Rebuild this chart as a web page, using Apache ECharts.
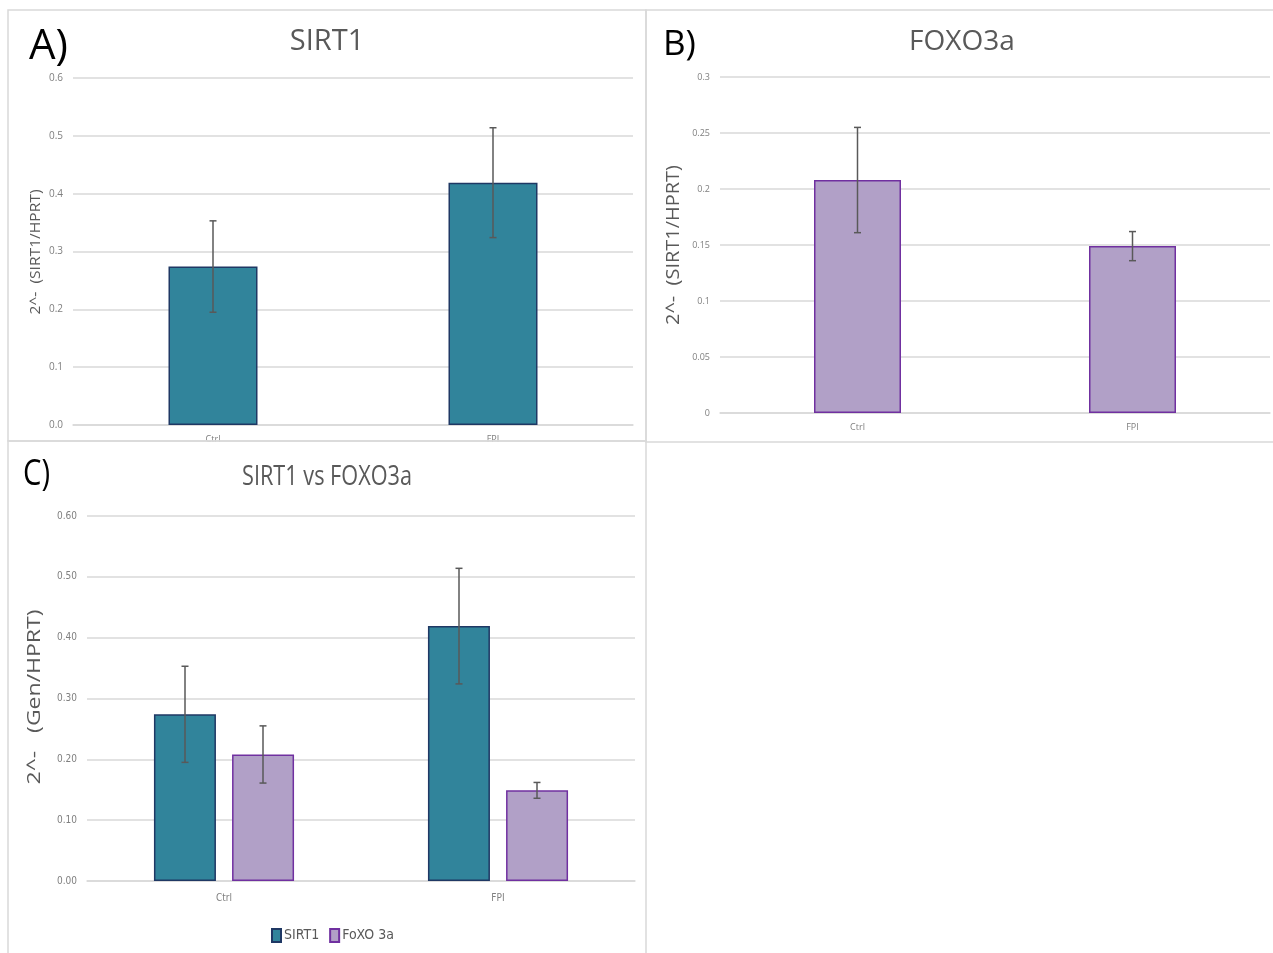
<!DOCTYPE html>
<html>
<head>
<meta charset="utf-8">
<script src="https://cdn.jsdelivr.net/npm/echarts@6/dist/echarts.min.js"></script>
<style>
  html, body { margin: 0; padding: 0; background: #fff; }
  #chart { width: 1273px; height: 953px; }
</style>
</head>
<body>
<div id="chart"></div>
<script>
// Relative expression (2^-ΔΔCt) of SIRT1 and FOXO3a, Ctrl vs FPI
const categories = ['Ctrl', 'FPI'];
const sirt1Mean = [0.274, 0.419];
const sirt1Err = [0.079, 0.095];
const foxo3aMean = [0.208, 0.149];
const foxo3aErr = [0.047, 0.013];

const TEAL = '#31849b', TEAL_EDGE = '#1f3864';
const LILAC = '#b1a0c7', LILAC_EDGE = '#7030a0';
const GRID_LINE = '#d9d9d9', TEXT = '#595959', ERR = '#595959';
const SANS = "'Open Sans', 'Noto Sans', sans-serif";
const NARROW = "'Liberation Sans Narrow', 'DejaVu Sans Condensed', 'Open Sans', sans-serif";

// Width-fitting helper: horizontal scale so a string spans a given length
const measureCtx = document.createElement('canvas').getContext('2d');
function fitScale(text, font, length) {
  measureCtx.font = font;
  return length / measureCtx.measureText(text).width;
}

// Error bar series: whiskers with caps, optionally shifted for grouped bars
function errorSeries(idx, means, errs, shift) {
  return {
    type: 'custom',
    xAxisIndex: idx, yAxisIndex: idx,
    z: 10,
    data: means.map((m, i) => [i, m, errs[i]]),
    encode: { x: 0, y: 1 },
    renderItem: function (params, api) {
      const i = api.value(0), m = api.value(1), e = api.value(2);
      const hi = api.coord([i, m + e]);
      const lo = api.coord([i, m - e]);
      const x = hi[0] + shift;
      const cap = 3.5;
      const st = { stroke: ERR, lineWidth: 1.5 };
      return {
        type: 'group',
        children: [
          { type: 'line', shape: { x1: x, y1: hi[1], x2: x, y2: lo[1] }, style: st },
          { type: 'line', shape: { x1: x - cap, y1: hi[1], x2: x + cap, y2: hi[1] }, style: st },
          { type: 'line', shape: { x1: x - cap, y1: lo[1], x2: x + cap, y2: lo[1] }, style: st }
        ]
      };
    }
  };
}

function valueAxis(idx, max, interval, digits, fontSize, family) {
  return {
    type: 'value', gridIndex: idx, min: 0, max: max, interval: interval,
    axisLine: { show: false }, axisTick: { show: false },
    splitLine: { lineStyle: { color: GRID_LINE, width: 1.5 } },
    axisLabel: {
      color: '#7f7f7f', fontSize: fontSize, fontFamily: family, margin: 10,
      formatter: v => digits < 0 ? String(+v.toFixed(2)) : v.toFixed(digits)
    }
  };
}

function catAxis(idx, fontSize, family, margin) {
  return {
    type: 'category', gridIndex: idx, data: categories,
    axisLine: { lineStyle: { color: GRID_LINE, width: 1.5 } },
    axisTick: { show: false },
    axisLabel: { color: '#7f7f7f', fontSize: fontSize, fontFamily: family, margin: margin }
  };
}

// Text element; when a length is given the text is stretched/condensed to it
function panelText(text, x, y, size, family, fill, align, length, rotation) {
  const font = size + 'px ' + family;
  const s = length ? fitScale(text, font, length) : 1;
  return {
    type: 'text', x: x, y: y, z: 200,
    rotation: rotation || 0, scaleX: s,
    style: { text: text, fill: fill, font: font, align: align, verticalAlign: 'middle' }
  };
}

const option = {
  backgroundColor: '#ffffff',
  animation: false,
  grid: [
    { left: 73, right: 640, top: 78, bottom: 528 },
    { left: 720, right: 3, top: 77, bottom: 540 },
    { left: 87, right: 638, top: 516, bottom: 72 }
  ],
  xAxis: [
    catAxis(0, 9, SANS, 10),
    catAxis(1, 9, SANS, 10),
    catAxis(2, 10, NARROW, 12)
  ],
  yAxis: [
    valueAxis(0, 0.6, 0.1, 1, 10, SANS),
    valueAxis(1, 0.3, 0.05, -1, 9, SANS),
    valueAxis(2, 0.6, 0.1, 2, 10, NARROW)
  ],
  legend: {
    left: 266, top: 923,
    icon: 'rect', itemWidth: 9, itemHeight: 13, itemGap: 10,
    textStyle: { color: TEXT, fontSize: 14, fontFamily: NARROW, padding: [0, 0, 0, -2] },
    data: ['SIRT1', 'FoXO 3a']
  },
  graphic: [
    // Panel frames
    { type: 'rect', z: 150, shape: { x: 0, y: 442, width: 646, height: 6 }, style: { fill: '#fff' } },
    { type: 'rect', z: 160, shape: { x: 8, y: 10, width: 638, height: 431 }, style: { fill: 'none', stroke: GRID_LINE, lineWidth: 1.5 } },
    { type: 'rect', z: 160, shape: { x: 646, y: 10, width: 630, height: 432 }, style: { fill: 'none', stroke: GRID_LINE, lineWidth: 1.5 } },
    { type: 'rect', z: 160, shape: { x: 8, y: 441, width: 638, height: 520 }, style: { fill: 'none', stroke: GRID_LINE, lineWidth: 1.5 } },
    // Panel letters and titles
    panelText('A)', 29, 47, 42, SANS, '#000', 'left'),
    panelText('SIRT1', 327, 42, 29, SANS, TEXT, 'center'),
    panelText('B)', 663, 45, 35, SANS, '#000', 'left'),
    panelText('FOXO3a', 962, 42, 28, SANS, TEXT, 'center'),
    panelText('C)', 23, 475, 36, SANS, '#000', 'left', 27),
    panelText('SIRT1 vs FOXO3a', 327, 477, 27, SANS, TEXT, 'center', 170),
    // Value axis titles
    panelText('2^-  (SIRT1/HPRT)', 36, 252, 15, SANS, TEXT, 'center', 125, Math.PI / 2),
    panelText('2^-  (SIRT1/HPRT)', 674, 245, 18, SANS, TEXT, 'center', 160, Math.PI / 2),
    panelText('2^-   (Gen/HPRT)', 35, 697, 19, SANS, TEXT, 'center', 175, Math.PI / 2)
  ],
  series: [
    {
      type: 'bar', xAxisIndex: 0, yAxisIndex: 0, barWidth: 89,
      data: sirt1Mean,
      itemStyle: { color: TEAL, borderColor: TEAL_EDGE, borderWidth: 1.5 }
    },
    errorSeries(0, sirt1Mean, sirt1Err, 0),
    {
      type: 'bar', xAxisIndex: 1, yAxisIndex: 1, barWidth: 87,
      data: foxo3aMean,
      itemStyle: { color: LILAC, borderColor: LILAC_EDGE, borderWidth: 1.5 }
    },
    errorSeries(1, foxo3aMean, foxo3aErr, 0),
    {
      name: 'SIRT1', type: 'bar', xAxisIndex: 2, yAxisIndex: 2, barWidth: 62, barGap: '26%',
      data: sirt1Mean,
      itemStyle: { color: TEAL, borderColor: TEAL_EDGE, borderWidth: 1.5 }
    },
    {
      name: 'FoXO 3a', type: 'bar', xAxisIndex: 2, yAxisIndex: 2, barWidth: 62, barGap: '26%',
      data: foxo3aMean,
      itemStyle: { color: LILAC, borderColor: LILAC_EDGE, borderWidth: 1.5 }
    },
    errorSeries(2, sirt1Mean, sirt1Err, -39),
    errorSeries(2, foxo3aMean, foxo3aErr, 39)
  ]
};

const chart = echarts.init(document.getElementById('chart'), null, { renderer: 'canvas' });
chart.setOption(option);
</script>
</body>
</html>
